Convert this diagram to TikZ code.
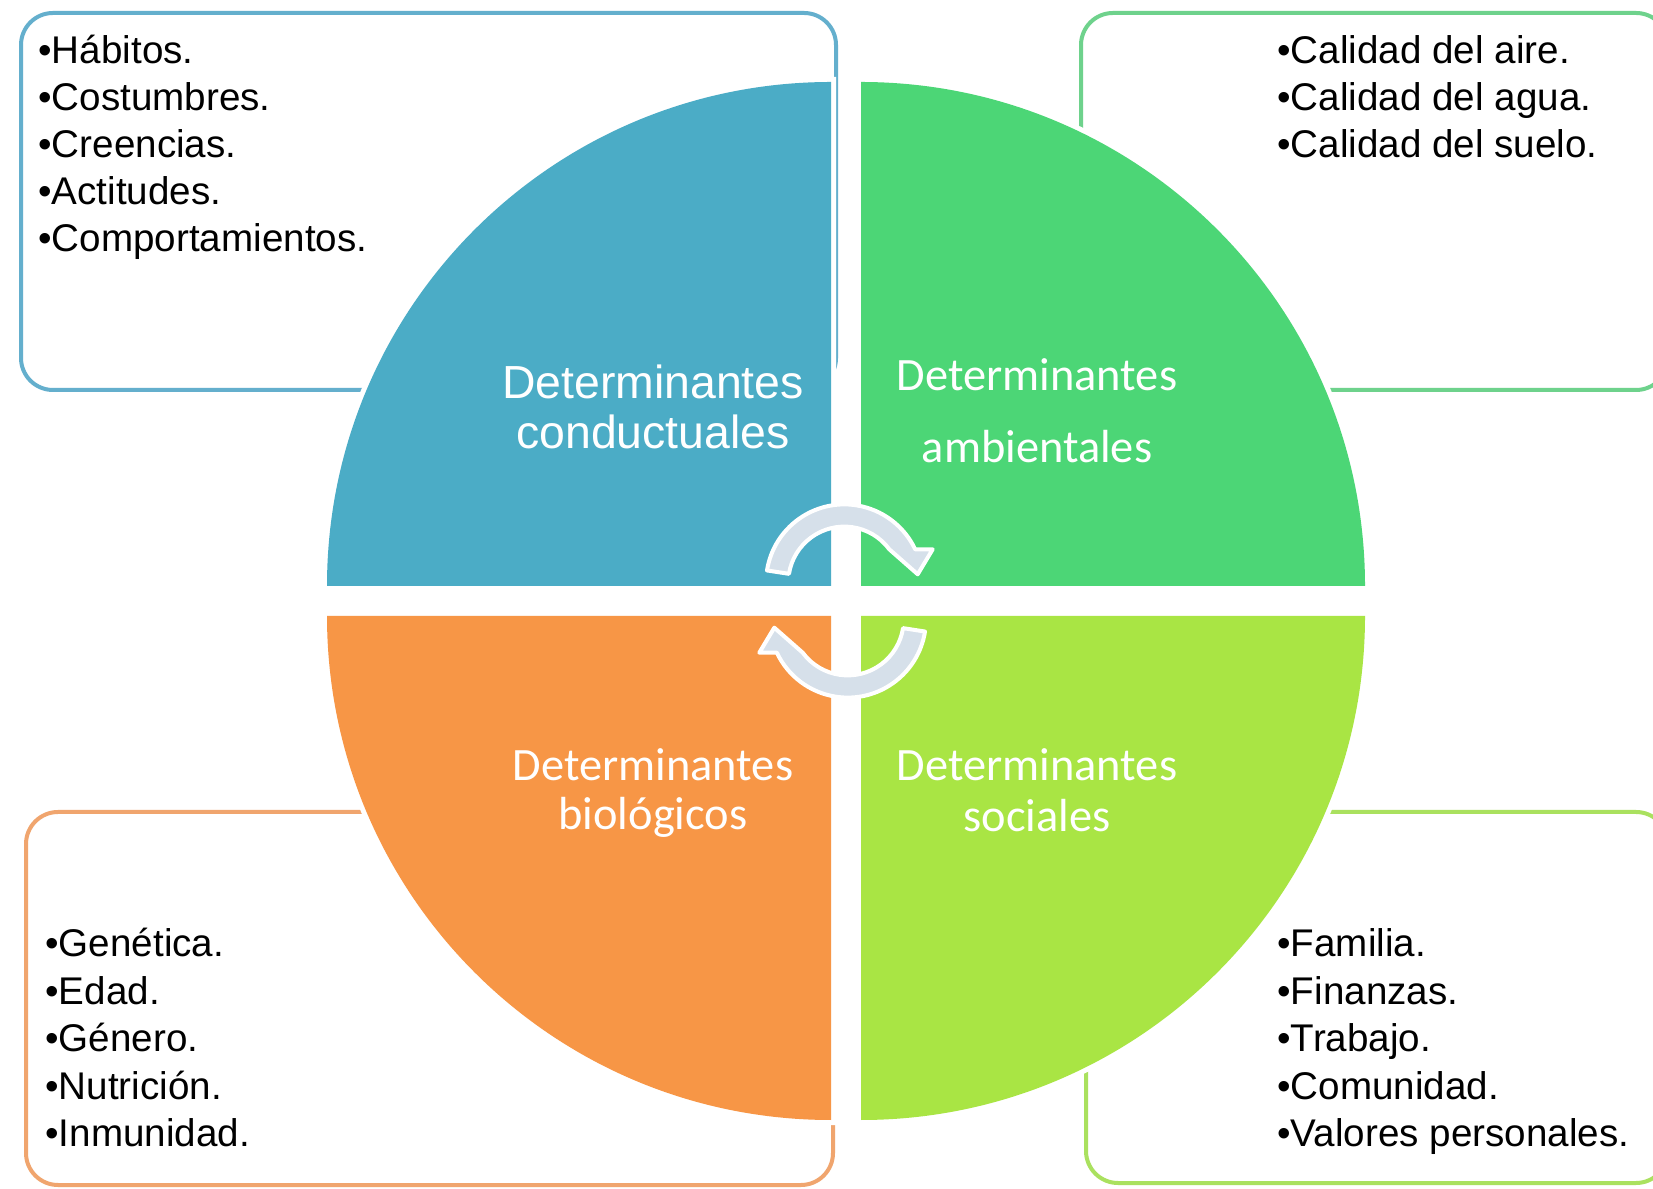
\documentclass[tikz,border=0pt]{standalone}
\usepackage{fontspec}
\setmainfont{Liberation Sans}
\newfontfamily\carlito{Carlito}
\definecolor{qblue}{RGB}{75,172,198}
\definecolor{qgreen}{RGB}{76,214,118}
\definecolor{qorange}{RGB}{247,150,70}
\definecolor{qlgreen}{RGB}{169,229,68}
\definecolor{bblue}{RGB}{100,175,205}
\definecolor{bgreen}{RGB}{110,210,140}
\definecolor{borange}{RGB}{240,165,110}
\definecolor{blgreen}{RGB}{170,225,95}
\definecolor{arrowfill}{RGB}{214,224,234}
\begin{document}
\begin{tikzpicture}[x=0.5pt,y=0.5pt,
  listbox/.style={rounded corners=16pt, line width=2pt},
  quad/.style={preaction={draw=white,line width=5pt}},
  item/.style={anchor=base west, inner sep=0pt, font=\fontsize{19.3pt}{22pt}\selectfont, text=black},
  qlabA/.style={anchor=base, inner sep=0pt, text=white, font=\fontsize{23.2pt}{27pt}\selectfont},
  qlabB/.style={anchor=base, inner sep=0pt, text=white, font=\carlito\fontsize{23.2pt}{28pt}\selectfont},
  cyc/.style={fill=arrowfill, draw=white, line width=2pt, line join=round}]
\useasboundingbox (0,0) rectangle (1653,1188);
\fill[white] (0,0) rectangle (1653,1188);

% list boxes
\draw[listbox, draw=bblue] (21,798) rectangle (836,1175);
\draw[listbox, draw=bgreen] (1081,798) rectangle (1668,1175);
\draw[listbox, draw=borange] (26,3) rectangle (833,376);
\draw[listbox, draw=blgreen] (1086,5) rectangle (1668,376);

% quadrants
\fill[quad, qblue] (831,602) -- (327,602) arc[start angle=180, end angle=90, radius=252pt] -- cycle;
\fill[quad, qgreen] (861,602) -- (861,1106) arc[start angle=90, end angle=0, radius=252pt] -- cycle;
\fill[quad, qorange] (831,572) -- (327,572) arc[start angle=180, end angle=270, radius=252pt] -- cycle;
\fill[quad, qlgreen] (861,572) -- (1365,572) arc[start angle=0, end angle=-90, radius=252pt] -- cycle;

% quadrant labels
\node[qlabA] (lc1) at (653,789) {Determinantes};
\node[qlabA] (lc2) at (653,739) {conductuales};
\node[qlabB] (la1) at (1037,797) {Determinantes};
\node[qlabB] (la2) at (1037,725) {ambientales};
\node[qlabB] (lb1) at (653,407) {Determinantes};
\node[qlabB] (lb2) at (653,358) {biológicos};
\node[qlabB] (ls1) at (1037,407) {Determinantes};
\node[qlabB] (ls2) at (1037,356) {sociales};

% lists
\foreach \t [count=\i] in {Hábitos.,Costumbres.,Creencias.,Actitudes.,Comportamientos.}
  \node[item] (tl\i) at (38,{1124-47*(\i-1)}) {•\t};
\foreach \t [count=\i] in {Calidad del aire.,Calidad del agua.,Calidad del suelo.}
  \node[item] (tr\i) at (1277,{1124-47*(\i-1)}) {•\t};
\foreach \t [count=\i] in {Genética.,Edad.,Género.,Nutrición.,Inmunidad.}
  \node[item] (bl\i) at (45,{231-47.4*(\i-1)}) {•\t};
\foreach \t [count=\i] in {Familia.,Finanzas.,Trabajo.,Comunidad.,Valores personales.}
  \node[item] (br\i) at (1277,{231-47.4*(\i-1)}) {•\t};

% cycle arrows
\begin{scope}[shift={(846,587)}]
\filldraw[cyc] (-79.0,30.55) arc[start angle=171, end angle=25.2, radius=39.15pt]
  -- (86.7,51.7) -- (71.7,26.7) -- (43.3,51.7)
  arc[start angle=36.5, end angle=171, radius=28pt] -- cycle;
\end{scope}
\begin{scope}[shift={(846,587)}, rotate=180]
\filldraw[cyc] (-79.0,30.55) arc[start angle=171, end angle=25.2, radius=39.15pt]
  -- (86.7,51.7) -- (71.7,26.7) -- (43.3,51.7)
  arc[start angle=36.5, end angle=171, radius=28pt] -- cycle;
\end{scope}
\end{tikzpicture}
\end{document}
